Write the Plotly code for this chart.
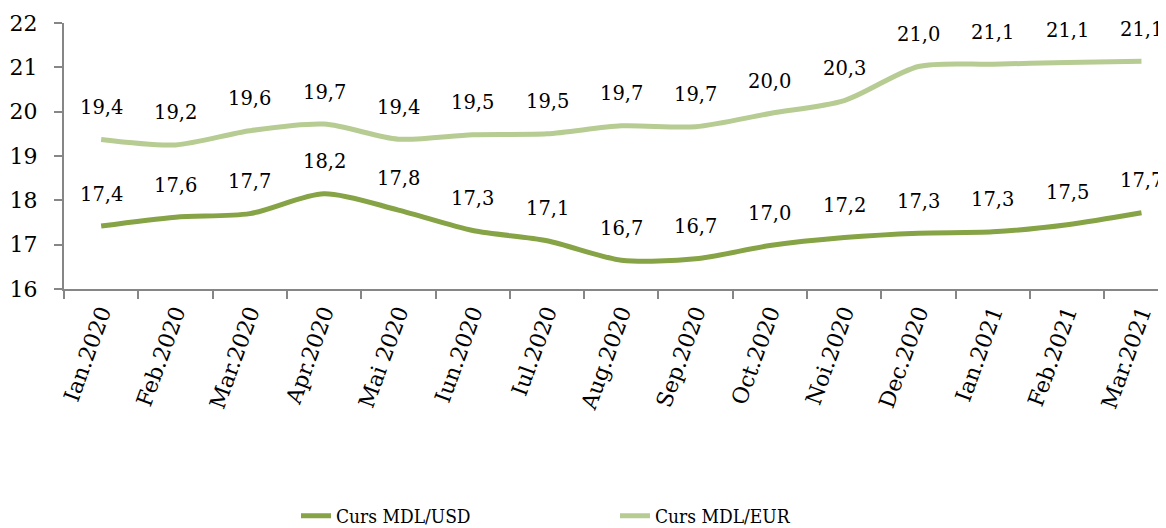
import plotly.graph_objects as go

categories = ["Ian.2020", "Feb.2020", "Mar.2020", "Apr.2020", "Mai 2020", "Iun.2020",
              "Iul.2020", "Aug.2020", "Sep.2020", "Oct.2020", "Noi.2020", "Dec.2020",
              "Ian.2021", "Feb.2021", "Mar.2021"]
usd = [17.42, 17.62, 17.70, 18.15, 17.78, 17.32, 17.09, 16.65, 16.68, 16.98, 17.16, 17.26, 17.29, 17.45, 17.72]
eur = [19.37, 19.25, 19.57, 19.72, 19.38, 19.48, 19.50, 19.68, 19.66, 19.96, 20.25, 21.02, 21.07, 21.11, 21.14]
usd_labels = ["17,4", "17,6", "17,7", "18,2", "17,8", "17,3", "17,1", "16,7", "16,7", "17,0", "17,2", "17,3", "17,3", "17,5", "17,7"]
eur_labels = ["19,4", "19,2", "19,6", "19,7", "19,4", "19,5", "19,5", "19,7", "19,7", "20,0", "20,3", "21,0", "21,1", "21,1", "21,1"]

c_usd = "#86a346"
c_eur = "#b6cc93"
serif = "DejaVu Serif"

fig = go.Figure()
fig.add_trace(go.Scatter(x=categories, y=usd, mode="lines", name="Curs MDL/USD",
                         line=dict(color=c_usd, width=5, shape="spline", smoothing=0.8)))
fig.add_trace(go.Scatter(x=categories, y=eur, mode="lines", name="Curs MDL/EUR",
                         line=dict(color=c_eur, width=5, shape="spline", smoothing=0.8)))

for vals, labs in ((usd, usd_labels), (eur, eur_labels)):
    for c, v, t in zip(categories, vals, labs):
        fig.add_annotation(x=c, y=v, text=t, showarrow=False, yshift=32,
                           yanchor="middle", xanchor="center",
                           font=dict(family=serif, size=19.5, color="#000000"))

# page has an 8px body margin, so the figure is 1158x520 drawn at (8,8)
fig.update_layout(
    width=1158, height=520,
    margin=dict(l=56, r=0, t=15, b=239, autoexpand=False),
    paper_bgcolor="white", plot_bgcolor="white",
    showlegend=True,
    legend=dict(orientation="h", x=0.2105, xanchor="left", y=-0.853, yanchor="middle",
                entrywidth=274, entrywidthmode="pixels",
                font=dict(family="DejaVu Serif Condensed, Liberation Serif", size=19, color="#000000"),
                bgcolor="rgba(0,0,0,0)"),
    xaxis=dict(type="category", range=[-0.5, 14.33], showgrid=False, showline=True,
               automargin=False,
               linecolor="#868686", linewidth=2, ticks="outside", tickson="boundaries",
               ticklen=8, tickcolor="#868686", tickwidth=2, tickangle=-70,
               tickfont=dict(family=serif, size=22, color="#000000")),
    yaxis=dict(range=[16, 22], dtick=1, showgrid=False, showline=True, zeroline=False,
               automargin=False, ticklabelstandoff=12,
               linecolor="#868686", linewidth=2, ticks="outside", ticklen=8,
               tickcolor="#868686", tickwidth=2,
               tickfont=dict(family=serif, size=22, color="#000000")),
)

fig.write_html("out.html")
